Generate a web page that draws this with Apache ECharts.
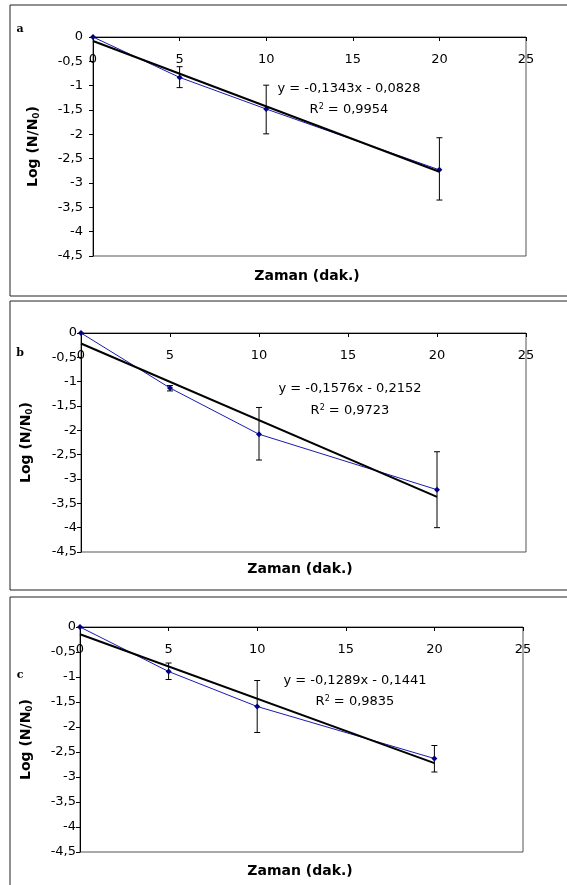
<!DOCTYPE html>
<html>
<head>
<meta charset="utf-8">
<script src="https://cdn.jsdelivr.net/npm/echarts@6/dist/echarts.min.js"></script>
<style>
  body { margin: 0; background: #fff; }
  #main { width: 567px; height: 885px; }
</style>
</head>
<body>
<div id="main"></div>
<script>
// data (a, b, c)
var timeX = [0, 5, 10, 20];

var logA = [0, -0.83, -1.48, -2.73];
var errTopA = [0, -0.61, -0.99, -2.07];
var errBotA = [0, -1.04, -1.99, -3.35];

var logB = [0, -1.13, -2.08, -3.22];
var errTopB = [0, -1.08, -1.53, -2.44];
var errBotB = [0, -1.19, -2.61, -4.0];

var logC = [0, -0.89, -1.59, -2.63];
var errTopC = [0, -0.72, -1.07, -2.37];
var errBotC = [0, -1.05, -2.11, -2.9];

// trend line equations
var slopes = [-0.1343, -0.1576, -0.1289];
var intercepts = [-0.0828, -0.2152, -0.1441];
var r2Values = [0.9954, 0.9723, 0.9835];
var panelLetters = ["a", "b", "c"];

var xTicks = [0, 25, 5]; // min, max, interval
var yTicks = [-4.5, 0, 0.5];

var myChart = echarts.init(document.getElementById("main"), null, {
  width: 567,
  height: 885,
});

var FONT = "DejaVu Sans";

// plot areas, one per panel
var grids = [
  { left: 93, top: 37, width: 433, height: 219 },
  { left: 81, top: 333, width: 445, height: 219 },
  { left: 80, top: 627, width: 443, height: 225 },
];
var yLabelMargin = [10, 4, 4];
var yNameGap = [52, 47, 46];
var xTitlePos = [[307, 276], [300, 569], [300, 871]];
var letterPos = [[20, 29], [20, 353], [20, 675]];
var eqPos = [[349, 89, 110], [350, 389, 411], [355, 681, 702]];
var framePos = [[10, 5, 291], [10, 301, 289], [10, 597, 300]];

var series = [];
var xAxes = [];
var yAxes = [];
var graphics = [];

function comma(v) {
  return String(v).replace(".", ",");
}

function errorBar(params, api) {
  var x = api.value(0);
  var top = api.coord([x, api.value(1)]);
  var bot = api.coord([x, api.value(2)]);
  var c = 3;
  var st = { stroke: "#000", lineWidth: 1 };
  return {
    type: "group",
    children: [
      { type: "line", shape: { x1: top[0], y1: top[1], x2: bot[0], y2: bot[1] }, style: st },
      { type: "line", shape: { x1: top[0] - c, y1: top[1], x2: top[0] + c, y2: top[1] }, style: st },
      { type: "line", shape: { x1: bot[0] - c, y1: bot[1], x2: bot[0] + c, y2: bot[1] }, style: st },
    ],
  };
}

var allLogs = [logA, logB, logC];
var allTop = [errTopA, errTopB, errTopC];
var allBot = [errBotA, errBotB, errBotC];

for (var i = 0; i < 3; i++) {
  grids[i].show = true;
  grids[i].borderColor = "#555";
  grids[i].borderWidth = 1;
  grids[i].backgroundColor = "#fff";

  xAxes.push({
    gridIndex: i,
    type: "value",
    position: "top",
    min: xTicks[0],
    max: xTicks[1],
    interval: xTicks[2],
    axisLine: { onZero: false, lineStyle: { color: "#000", width: 1 } },
    axisTick: { inside: true, length: 4, lineStyle: { color: "#000" } },
    axisLabel: {
      inside: true,
      margin: 16,
      color: "#000",
      fontFamily: FONT,
      fontSize: 13,
      showMinLabel: true,
      showMaxLabel: true,
    },
    splitLine: { show: false },
  });

  yAxes.push({
    gridIndex: i,
    type: "value",
    min: yTicks[0],
    max: yTicks[1],
    interval: yTicks[2],
    axisLine: { show: true, onZero: false, lineStyle: { color: "#000", width: 1 } },
    axisTick: { show: true, length: 4, lineStyle: { color: "#000" } },
    axisLabel: {
      margin: yLabelMargin[i],
      color: "#000",
      fontFamily: FONT,
      fontSize: 13,
      formatter: function (v) {
        return comma(v);
      },
    },
    splitLine: { show: false },
    name: "{t|Log (N/N}{s|0}{t|)}",
    nameLocation: "middle",
    nameGap: yNameGap[i],
    nameTextStyle: {
      rich: {
        t: { fontFamily: FONT, fontWeight: "bold", fontSize: 14, color: "#000" },
        s: { fontFamily: FONT, fontWeight: "bold", fontSize: 9, color: "#000", verticalAlign: "bottom", padding: [6, 0, 0, 0] },
      },
    },
  });

  var pts = [];
  var bars = [];
  for (var k = 0; k < timeX.length; k++) {
    pts.push([timeX[k], allLogs[i][k]]);
    if (timeX[k] > 0) bars.push([timeX[k], allTop[i][k], allBot[i][k]]);
  }

  // error bars
  series.push({
    type: "custom",
    xAxisIndex: i,
    yAxisIndex: i,
    renderItem: errorBar,
    encode: { x: 0, y: [1, 2] },
    data: bars,
    z: 2,
    silent: true,
  });

  // measured values
  series.push({
    type: "line",
    xAxisIndex: i,
    yAxisIndex: i,
    data: pts,
    symbol: "diamond",
    symbolSize: 6,
    itemStyle: { color: "#000080" },
    lineStyle: { color: "#1a1ab0", width: 1 },
    z: 3,
    silent: true,
    animation: false,
  });

  // linear trend line from the equation
  var x0 = timeX[0];
  var x1 = timeX[timeX.length - 1];
  series.push({
    type: "line",
    xAxisIndex: i,
    yAxisIndex: i,
    data: [
      [x0, slopes[i] * x0 + intercepts[i]],
      [x1, slopes[i] * x1 + intercepts[i]],
    ],
    symbol: "none",
    lineStyle: { color: "#000", width: 2 },
    z: 4,
    silent: true,
    animation: false,
  });

  // panel frame
  graphics.push({
    type: "rect",
    shape: { x: framePos[i][0], y: framePos[i][1], width: 600, height: framePos[i][2] },
    style: { fill: "none", stroke: "#222", lineWidth: 1 },
    z: -10,
  });

  // x title
  graphics.push({
    type: "text",
    x: xTitlePos[i][0],
    y: xTitlePos[i][1],
    style: {
      text: "Zaman (dak.)",
      fontFamily: FONT,
      fontWeight: "bold",
      fontSize: 14,
      fill: "#000",
      align: "center",
      verticalAlign: "middle",
    },
    z: 10,
  });

  // panel letter
  graphics.push({
    type: "text",
    x: letterPos[i][0],
    y: letterPos[i][1],
    style: {
      text: panelLetters[i],
      fontFamily: "DejaVu Serif",
      fontWeight: "bold",
      fontSize: 11,
      fill: "#000",
      align: "center",
      verticalAlign: "middle",
    },
    z: 10,
  });

  // equation and R2
  var eq = "y = " + comma(slopes[i]) + "x - " + comma(Math.abs(intercepts[i]));
  graphics.push({
    type: "text",
    x: eqPos[i][0],
    y: eqPos[i][1],
    style: {
      text: eq,
      fontFamily: FONT,
      fontSize: 13,
      fill: "#000",
      align: "center",
      verticalAlign: "middle",
    },
    z: 10,
  });
  graphics.push({
    type: "text",
    x: eqPos[i][0],
    y: eqPos[i][2],
    style: {
      text: "{n|R}{s|2}{n| = " + comma(r2Values[i]) + "}",
      align: "center",
      verticalAlign: "middle",
      rich: {
        n: { fontFamily: FONT, fontSize: 13, fill: "#000", color: "#000" },
        s: { fontFamily: FONT, fontSize: 8, fill: "#000", color: "#000", verticalAlign: "top", padding: [0, 0, 6, 0] },
      },
    },
    z: 10,
  });
}

var option = {
  animation: false,
  backgroundColor: "#fff",
  grid: grids,
  xAxis: xAxes,
  yAxis: yAxes,
  series: series,
  graphic: graphics,
};

myChart.setOption(option);
</script>
</body>
</html>
